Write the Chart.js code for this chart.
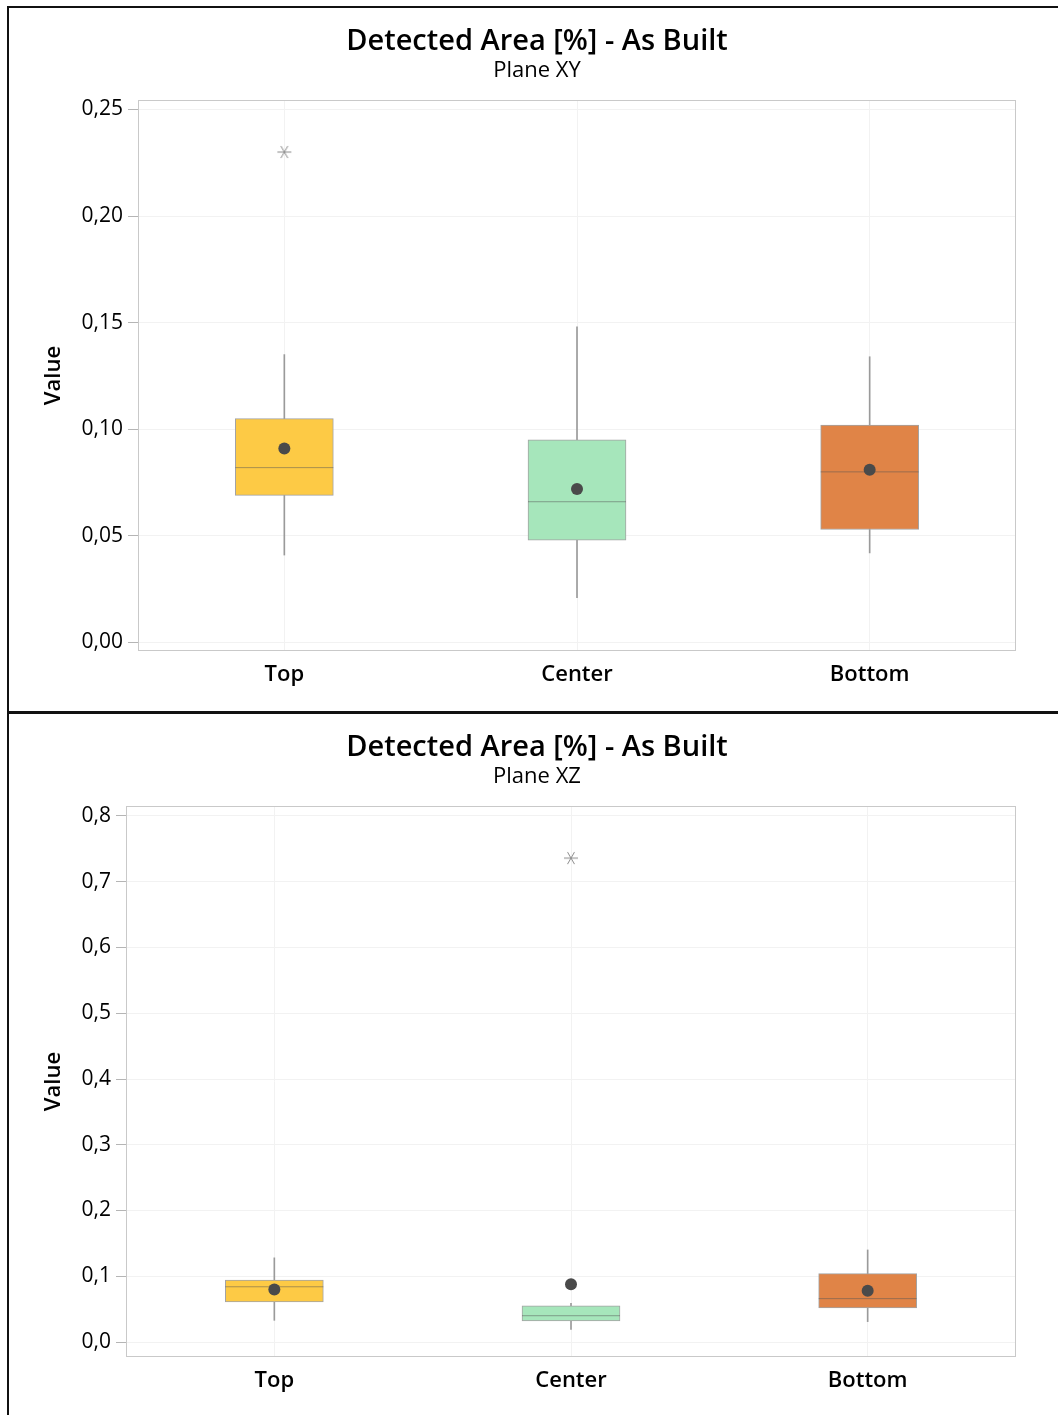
<!DOCTYPE html>
<html>
<head>
<meta charset="utf-8">
<script src="https://cdn.jsdelivr.net/npm/chart.js@4"></script>
<style>
  html, body { margin: 0; padding: 0; background: #fff; overflow: hidden; }
  body { position: relative; width: 1058px; height: 1415px; }
  canvas { position: absolute; left: 8px; }
  #xy { top: 9px; }
  #xz { top: 715px; }
  .rule { position: absolute; background: #111; }
</style>
</head>
<body>
<div class="rule" style="left:7px; top:6px; width:1051px; height:2px;"></div>
<div class="rule" style="left:7px; top:6px; width:2px; height:1409px;"></div>
<div class="rule" style="left:7px; top:711px; width:1051px; height:3px;"></div>
<canvas id="xy" width="1058" height="700"></canvas>
<canvas id="xz" width="1058" height="700"></canvas>
<script>
const categories = ['Top', 'Center', 'Bottom'];
const boxColors = ['#fdca45', '#a6e6bb', '#e08447'];

// Plane XY
const xyLow = [0.041, 0.021, 0.042];
const xyQ1 = [0.069, 0.048, 0.053];
const xyMedian = [0.082, 0.066, 0.080];
const xyQ3 = [0.105, 0.095, 0.102];
const xyHigh = [0.135, 0.148, 0.134];
const xyMean = [0.091, 0.072, 0.081];
const xyOutlier = [0.230, null, null];
const xyTicks = [0, 0.05, 0.10, 0.15, 0.20, 0.25];

// Plane XZ
const xzLow = [0.033, 0.019, 0.031];
const xzQ1 = [0.061, 0.032, 0.052];
const xzMedian = [0.084, 0.040, 0.066];
const xzQ3 = [0.094, 0.055, 0.104];
const xzHigh = [0.128, 0.059, 0.140];
const xzMean = [0.080, 0.088, 0.078];
const xzOutlier = [null, 0.736, null];
const xzTicks = [0, 0.1, 0.2, 0.3, 0.4, 0.5, 0.6, 0.7, 0.8];

const FONT = "'Open Sans', 'Noto Sans', sans-serif";
Chart.defaults.font.family = FONT;
Chart.defaults.color = '#000';

// six-spoke asterisk used for outliers
const star = document.createElement('canvas');
star.width = 16; star.height = 16;
(function() {
  const c = star.getContext('2d');
  c.strokeStyle = '#8a8a8a';
  c.lineWidth = 1;
  for (let a = 0; a < 3; a++) {
    const r = a * Math.PI / 3;
    c.beginPath();
    c.moveTo(8 - Math.cos(r) * 7, 8 - Math.sin(r) * 7);
    c.lineTo(8 + Math.cos(r) * 7, 8 + Math.sin(r) * 7);
    c.stroke();
  }
})();

const frame = {
  id: 'frame',
  beforeDatasetsDraw(chart) {
    const a = chart.chartArea, ctx = chart.ctx;
    ctx.save();
    ctx.strokeStyle = '#c9c9c9';
    ctx.lineWidth = 1;
    ctx.strokeRect(Math.round(a.left) + 0.5, Math.round(a.top) + 0.5,
      Math.round(a.right - a.left) - 1, Math.round(a.bottom - a.top) - 1);
    ctx.restore();
  }
};

function boxChart(id, plane, s, ticks, yMin, yMax, decimals, axisWidth) {
  return new Chart(document.getElementById(id), {
    type: 'bar',
    plugins: [frame],
    data: {
      labels: categories,
      datasets: [
        {
          type: 'bar', grouped: false, order: 5,
          data: s.low.map((v, i) => [v, s.high[i]]),
          backgroundColor: '#9a9a9a', borderWidth: 0, barThickness: 1
        },
        {
          type: 'bar', grouped: false, order: 4,
          data: s.q1.map((v, i) => [v, s.q3[i]]),
          backgroundColor: boxColors, borderColor: '#a3a3a3',
          borderWidth: 1, borderSkipped: false, barThickness: 98
        },
        {
          type: 'line', order: 3, showLine: false, data: s.median,
          pointStyle: 'line', pointRadius: 49,
          pointBorderColor: 'rgba(85,85,85,0.5)', pointBorderWidth: 1
        },
        {
          type: 'line', order: 2, showLine: false, data: s.mean,
          pointStyle: 'circle', pointRadius: 6,
          pointBackgroundColor: '#4a4a4a', pointBorderWidth: 0
        },
        {
          type: 'line', order: 1, showLine: false, data: s.outlier,
          pointStyle: star, pointRadius: 8
        }
      ]
    },
    options: {
      responsive: false,
      animation: false,
      events: [],
      layout: { padding: 0 },
      plugins: {
        legend: { display: false },
        tooltip: { enabled: false },
        title: {
          display: true, text: 'Detected Area [%] - As Built', color: '#000',
          font: { size: 29, weight: '600', lineHeight: 1.2 },
          padding: { top: 15.5, bottom: 0 }
        },
        subtitle: {
          display: true, text: plane, color: '#000',
          font: { size: 22, weight: 'normal', lineHeight: 1.0 },
          padding: { top: 0, bottom: 18.7 }
        }
      },
      scales: {
        x: {
          offset: true,
          grid: { offset: false, color: '#f2f2f2', drawTicks: false },
          border: { display: false },
          ticks: { padding: 11, font: { size: 22, weight: '600' }, color: '#000' },
          afterFit: sc => { sc.height = 58; }
        },
        y: {
          min: yMin, max: yMax,
          grid: { color: '#f2f2f2', tickColor: '#b5b5b5', tickLength: 10 },
          border: { display: false },
          ticks: {
            padding: 5, font: { size: 21 }, color: '#000',
            callback: v => v.toFixed(decimals).replace('.', ',')
          },
          afterBuildTicks: sc => { sc.ticks = ticks.map(v => ({ value: v })); },
          afterFit: sc => { sc.width = axisWidth; },
          title: {
            display: true, text: 'Value', color: '#000',
            font: { size: 22, weight: '600', lineHeight: 1.2 },
            padding: { top: 33, bottom: 0 }
          }
        },
        // empty strip on the right so the titles centre on the whole canvas
        gutter: {
          type: 'linear', position: 'right',
          grid: { display: false }, border: { display: false },
          ticks: { display: false },
          afterFit: sc => { sc.width = 49; }
        }
      }
    }
  });
}

boxChart('xy', 'Plane XY',
  { low: xyLow, q1: xyQ1, median: xyMedian, q3: xyQ3, high: xyHigh, mean: xyMean, outlier: xyOutlier },
  xyTicks, -0.004, 0.2544, 2, 130);

boxChart('xz', 'Plane XZ',
  { low: xzLow, q1: xzQ1, median: xzMedian, q3: xzQ3, high: xzHigh, mean: xzMean, outlier: xzOutlier },
  xzTicks, -0.0228, 0.8152, 1, 118);
</script>
</body>
</html>
